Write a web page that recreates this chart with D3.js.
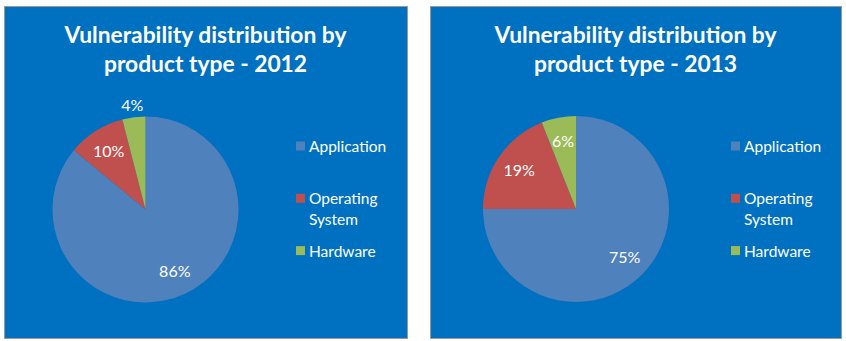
<!DOCTYPE html>
<html>
<head>
<meta charset="utf-8">
<script src="https://cdn.jsdelivr.net/npm/d3@7"></script>
<style>
  html, body { margin: 0; padding: 0; background: #ffffff; }
  svg { display: block; }
</style>
</head>
<body>
<svg id="chart" width="846" height="341"></svg>
<script>
// ---- data ----
const categories = ["Application", "Operating System", "Hardware"];
const years = ["2012", "2013"];
const values2012 = [86, 10, 4];
const values2013 = [75, 19, 6];
const titlePrefix = "Vulnerability distribution by";
const titleSecond = "product type - ";

// ---- styles / layout ----
const colors = ["#4F81BD", "#C0504D", "#9BBB59"];
const bg = "#0070C0";
const fontFam = "Lato, 'Open Sans', 'DejaVu Sans', sans-serif";

const panels = [
  { year: years[0], values: values2012, x: 4, y: 6, w: 403, h: 332, cx: 145.5, cy: 209.5, legX: 296 },
  { year: years[1], values: values2013, x: 430, y: 6, w: 411, h: 332, cx: 576, cy: 209, legX: 731 }
];
const radius = 93;

const svg = d3.select("#chart");

const color = d3.scaleOrdinal().domain(categories).range(colors);
const pie = d3.pie().sort(null).value(d => d.value);
const arc = d3.arc().innerRadius(0).outerRadius(radius);
const labelArc = d3.arc().innerRadius(radius * 0.74).outerRadius(radius * 0.74);
const outerLabelArc = d3.arc().innerRadius(radius + 12).outerRadius(radius + 12);

panels.forEach(p => {
  const g = svg.append("g");
  g.append("rect")
    .attr("x", p.x + 0.5).attr("y", p.y + 0.5)
    .attr("width", p.w).attr("height", p.h)
    .attr("fill", bg)
    .attr("stroke", "#9a9a9a").attr("stroke-width", 1);

  const midX = p.x + p.w / 2;
  const title = g.append("text")
    .attr("text-anchor", "middle")
    .attr("fill", "#ffffff")
    .attr("font-family", fontFam)
    .attr("font-weight", "bold")
    .attr("font-size", 22.8);
  title.append("tspan").attr("x", midX).attr("y", 43).text(titlePrefix);
  title.append("tspan").attr("x", midX).attr("y", 72).text(titleSecond + p.year);

  const data = categories.map((c, i) => ({ cat: c, value: p.values[i] }));
  const arcs = pie(data);
  const total = d3.sum(p.values);

  const pg = g.append("g").attr("transform", `translate(${p.cx},${p.cy})`);
  pg.selectAll("path").data(arcs).join("path")
    .attr("d", arc)
    .attr("fill", d => color(d.data.cat));

  pg.selectAll("text").data(arcs).join("text")
    .attr("transform", d => {
      const share = d.data.value / total;
      const c = share < 0.05 ? outerLabelArc.centroid(d) : labelArc.centroid(d);
      return `translate(${c[0]},${c[1]})`;
    })
    .attr("text-anchor", "middle")
    .attr("dy", "0.35em")
    .attr("fill", "#ffffff")
    .attr("font-family", fontFam)
    .attr("font-size", 16)
    .text(d => Math.round(d.data.value / total * 100) + "%");

  // legend
  const lg = g.append("g");
  categories.forEach((c, i) => {
    const yc = 146.5 + 52.3 * i;
    lg.append("rect")
      .attr("x", p.legX).attr("y", yc - 5)
      .attr("width", 9).attr("height", 9)
      .attr("fill", color(c));
    const words = c.split(" ");
    const t = lg.append("text")
      .attr("fill", "#ffffff")
      .attr("font-family", fontFam)
      .attr("font-size", 15.5);
    words.forEach((w, k) => {
      t.append("tspan")
        .attr("x", p.legX + 13)
        .attr("y", yc + 21 * k)
        .attr("dy", "0.35em")
        .text(w);
    });
  });
});
</script>
</body>
</html>
